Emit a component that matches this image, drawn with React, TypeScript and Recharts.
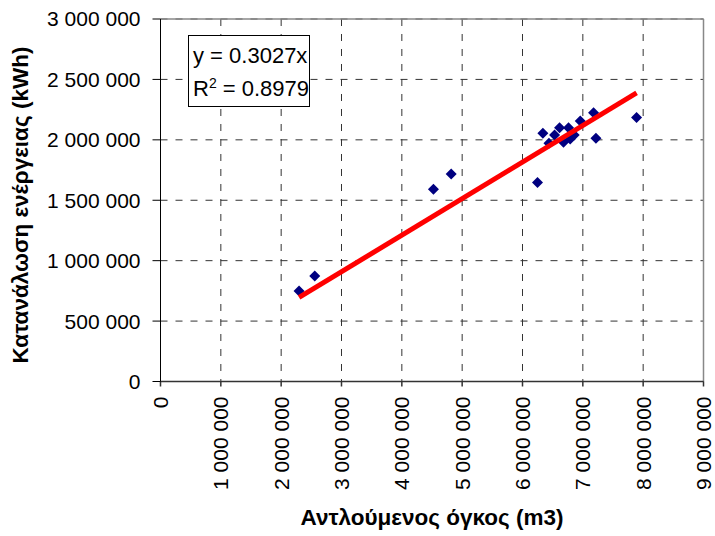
import { ScatterChart, Scatter, XAxis, YAxis, CartesianGrid, ReferenceLine, Label } from 'recharts';

// pumped volume (m3) vs energy use (kWh)
const pumpedVolume = [
  2297000, 2557000, 4524000, 4818000, 6249000, 6338000, 6438000, 6531000, 6614000,
  6680000, 6763000, 6790000, 6857000, 6957000, 7178000, 7217000, 7891000,
];
const energyUse = [
  749000, 873000, 1591000, 1718000, 1646000, 2055000, 1972000, 2040000, 2101000,
  1980000, 2101000, 2007000, 2040000, 2156000, 2225000, 2013000, 2184000,
];
const slope = 0.3027;
const xTicks = [0, 1000000, 2000000, 3000000, 4000000, 5000000, 6000000, 7000000, 8000000, 9000000];
const yTicks = [0, 500000, 1000000, 1500000, 2000000, 2500000, 3000000];

const points = pumpedVolume.map((x, i) => ({ x, y: energyUse[i] }));
const xMin = Math.min(...pumpedVolume);
const xMax = Math.max(...pumpedVolume);
const trend = [
  { x: xMin, y: slope * xMin },
  { x: xMax, y: slope * xMax },
];

const fmt = (v: number) => String(v).replace(/\B(?=(\d{3})+(?!\d))/g, ' ');

const FONT = '"Liberation Sans", Arial, sans-serif';

const Diamond = (props: any) => {
  const { cx, cy } = props;
  const r = 5.5;
  return <path d={`M${cx},${cy - r}L${cx + r},${cy}L${cx},${cy + r}L${cx - r},${cy}Z`} fill="#000080" />;
};

const XTick = ({ x, y, payload }: any) => (
  <text
    transform={`translate(${x},${y}) rotate(-90)`}
    textAnchor="end"
    dy="0.35em"
    fontSize={21}
    fontFamily={FONT}
    fill="#000"
  >
    {fmt(payload.value)}
  </text>
);

export default function App() {
  return (
    <div style={{ position: 'absolute', left: 0, top: 0, width: 715, height: 536 }}>
      <ScatterChart width={715} height={536} margin={{ top: 19, right: 11.5, bottom: 0, left: 0 }}>
        <CartesianGrid stroke="#333" strokeDasharray="7 8" />
        <XAxis
          type="number"
          dataKey="x"
          domain={[0, 9000000]}
          ticks={xTicks}
          height={154.5}
          tickSize={5}
          tickMargin={10}
          tick={<XTick />}
          stroke="#333"
          strokeWidth={1.5}
          interval={0}
        >
          <Label
            content={() => (
              <text x={432} y={517} textAnchor="middle" dominantBaseline="central" fontSize={22.5} fontWeight="bold" fontFamily={FONT} fill="#000">
                Αντλούμενος όγκος (m3)
              </text>
            )}
          />
        </XAxis>
        <YAxis
          type="number"
          dataKey="y"
          domain={[0, 3000000]}
          ticks={yTicks}
          width={160.5}
          tickSize={8}
          tickMargin={12}
          tickFormatter={fmt}
          tick={{ fontSize: 21, fontFamily: FONT, fill: '#000' }}
          stroke="#000"
          interval={0}
        >
          <Label
            content={() => (
              <text
                transform="translate(20,205) rotate(-90)"
                textAnchor="middle"
                dominantBaseline="central"
                fontSize={22.5}
                fontWeight="bold"
                fontFamily={FONT}
                fill="#000"
              >
                Κατανάλωση ενέργειας (kWh)
              </text>
            )}
          />
        </YAxis>
        <ReferenceLine y={3000000} stroke="#888" strokeWidth={1.5} />
        <ReferenceLine x={9000000} stroke="#888" strokeWidth={1.5} />
        <Scatter data={points} shape={<Diamond />} isAnimationActive={false} />
        <Scatter
          data={trend}
          line={{ stroke: '#ff0000', strokeWidth: 5 }}
          shape={() => null}
          isAnimationActive={false}
        />
      </ScatterChart>
      <div
        style={{
          position: 'absolute',
          left: 188,
          top: 35,
          width: 122,
          height: 72,
          border: '1px solid #000',
          background: '#fff',
          fontFamily: FONT,
          fontSize: 22,
          lineHeight: '33px',
          paddingLeft: 4,
          paddingTop: 3,
          boxSizing: 'border-box',
          whiteSpace: 'nowrap',
        }}
      >
        <div>y = 0.3027x</div>
        <div>
          R<sup style={{ fontSize: 14, lineHeight: 0 }}>2</sup> = 0.8979
        </div>
      </div>
    </div>
  );
}
